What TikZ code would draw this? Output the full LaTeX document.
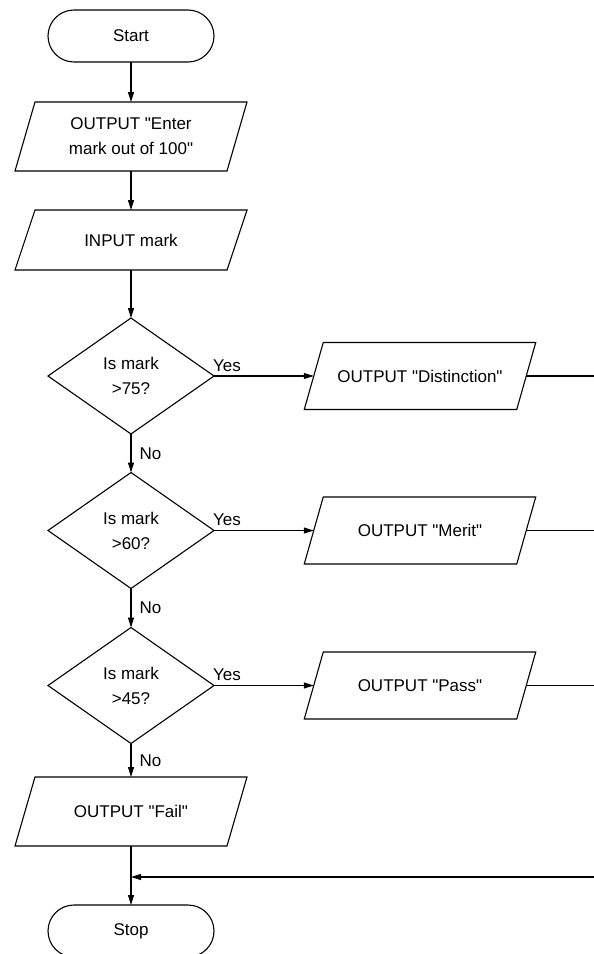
\documentclass[tikz,border=0pt]{standalone}
\usepackage{fontspec}
\setmainfont{Liberation Sans}[Ligatures=TeXOff]
\usetikzlibrary{shapes.geometric,arrows.meta}
\begin{document}
\begin{tikzpicture}[x=1pt,y=-1pt,
  every node/.style={font=\fontsize{17}{25}\selectfont},
  line/.style={line width=1.1pt},
  arr/.style={line width=1.1pt,-{Triangle[length=10pt,width=6pt]}},
  term/.style={draw,line width=1.1pt,rectangle,rounded corners=26pt,minimum width=166pt,minimum height=52pt,inner sep=0pt,outer sep=0pt},
  iobox/.style={rectangle,inner sep=0pt,outer sep=0pt,align=center},
  leftio/.style={iobox,minimum width=212pt},
  rightio/.style={iobox,minimum width=212.5pt,minimum height=67pt},
  dec/.style={draw,line width=1.1pt,diamond,minimum width=166pt,minimum height=116pt,inner sep=0pt,outer sep=0pt,align=center},
  lab/.style={inner sep=0pt}]
\useasboundingbox (0,0) rectangle (594,954);

% nodes
\node[term] (start) at (131,36) {Start};
\node[leftio,minimum height=69pt] (out1) at (131,136.5) {OUTPUT "Enter\\mark out of 100"};
\node[leftio,minimum height=60pt] (inp) at (131,240) {INPUT mark};
\node[dec] (d1) at (131,376) {Is mark\\>75?};
\node[rightio] (dist) at (420,376) {OUTPUT "Distinction"};
\node[dec] (d2) at (131,530.5) {Is mark\\>60?};
\node[rightio] (merit) at (420,530.5) {OUTPUT "Merit"};
\node[dec] (d3) at (131,685.5) {Is mark\\>45?};
\node[rightio] (pass) at (420,685.5) {OUTPUT "Pass"};
\node[leftio,minimum height=69pt] (fail) at (131,811.5) {OUTPUT "Fail"};
\node[term] (stop) at (131,931) {Stop};

% parallelogram outlines
\foreach \n/\s in {out1/10,inp/10,fail/10,dist/9.5,merit/9.5,pass/9.5}{
  \draw[line,line join=miter] ([xshift=\s pt]\n.north west) -- ([xshift=\s pt]\n.north east)
     -- ([xshift=-\s pt]\n.south east) -- ([xshift=-\s pt]\n.south west) -- cycle;
}

% free ends at the right edge
\coordinate (r1) at (594,376);
\coordinate (r2) at (594,530.5);
\coordinate (r3) at (594,685.5);
\coordinate (r4) at (594,877);
\coordinate (j) at (131,877);

% connectors
\draw[arr] (start) -- (out1);
\draw[arr] (out1) -- (inp);
\draw[arr] (inp) -- (d1);
\draw[arr] (d1) -- node[lab,midway,anchor=west,xshift=8pt]{No} (d2);
\draw[arr] (d2) -- node[lab,midway,anchor=west,xshift=8pt]{No} (d3);
\draw[arr] (d3) -- node[lab,midway,anchor=west,xshift=8pt]{No} (fail);
\draw[arr] (fail) -- (stop);

\draw[arr] (d1.east) -- (dist.west);
\draw[arr] (d2.east) -- (merit.west);
\draw[arr] (d3.east) -- (pass.west);
\node[lab,anchor=base west] at ([xshift=-1pt,yshift=5pt]d1.east) {Yes};
\node[lab,anchor=base west] at ([xshift=-1pt,yshift=5pt]d2.east) {Yes};
\node[lab,anchor=base west] at ([xshift=-1pt,yshift=5pt]d3.east) {Yes};

\draw[line] (dist.east) -- (r1);
\draw[line] (merit.east) -- (r2);
\draw[line] (pass.east) -- (r3);
\draw[arr] (r4) -- (j);
\end{tikzpicture}
\end{document}
